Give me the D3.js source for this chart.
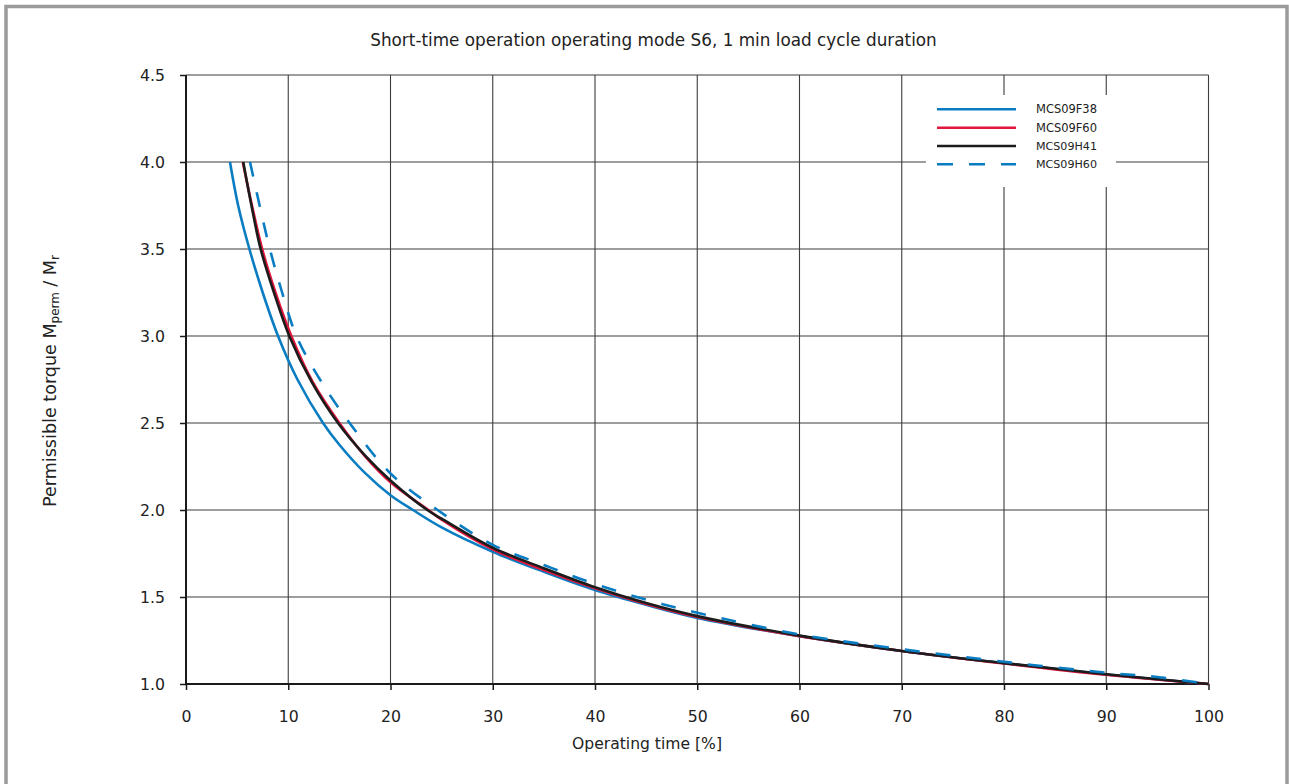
<!DOCTYPE html>
<html><head><meta charset="utf-8">
<script src="https://cdn.jsdelivr.net/npm/d3@7"></script>
<style>
html,body{margin:0;padding:0;background:#fff;}
svg{display:block;font-family:"DejaVu Sans",sans-serif;}
</style></head>
<body><svg id="chart" width="1289" height="784"></svg>
<script>
const title = "Short-time operation operating mode S6, 1 min load cycle duration";
const xTicks = [0,10,20,30,40,50,60,70,80,90,100];
const yTicks = [1.0,1.5,2.0,2.5,3.0,3.5,4.0,4.5];
const seriesNames = ["MCS09F38","MCS09F60","MCS09H41","MCS09H60"];
// operating time [%] -> permissible torque ratio
const xF38 = [4.3,5.1,6.2,7.5,9.0,10.9,13.4,15,17.5,20,22.2,25,30,35,40,45,50,60,70,80,90,100];
const yF38 = [4.0,3.75,3.5,3.25,3.0,2.75,2.5,2.375,2.213,2.085,2.0,1.90,1.76,1.645,1.54,1.455,1.38,1.275,1.19,1.12,1.055,1.0];
const xF60 = [5.55,6.45,7.45,8.75,10.3,12.4,15.0,17.5,20,23.7,25,30,35,40,45,50,60,70,80,90,100];
const yF60 = [4.0,3.75,3.5,3.25,3.0,2.735,2.5,2.31,2.16,2.0,1.945,1.774,1.655,1.55,1.46,1.385,1.275,1.19,1.118,1.053,1.0];
const xH41 = [5.6,6.4,7.3,8.6,10.1,12.3,14.9,17.5,20,23.6,25,30,35,40,45,50,60,70,80,90,100];
const yH41 = [4.0,3.75,3.5,3.25,3.0,2.735,2.497,2.314,2.17,2.0,1.95,1.783,1.665,1.556,1.465,1.39,1.278,1.19,1.12,1.056,1.0];
const xH60 = [6.26,7.2,8.2,9.4,10.8,13.1,16.0,20,24.6,30,35,40,45,50,60,70,80,90,95,100];
const yH60 = [4.0,3.75,3.5,3.25,3.0,2.75,2.5,2.21,2.0,1.80,1.684,1.575,1.485,1.41,1.285,1.20,1.128,1.065,1.04,1.0];

const series = [
  {name:seriesNames[0], xs:xF38, ys:yF38, color:"#0a7dc2", dash:null},
  {name:seriesNames[1], xs:xF60, ys:yF60, color:"#e3173e", dash:null},
  {name:seriesNames[2], xs:xH41, ys:yH41, color:"#1c1c1c", dash:null},
  {name:seriesNames[3], xs:xH60, ys:yH60, color:"#0a7dc2", dash:"15,16"}
];

const svg = d3.select("#chart");
const L=186, R=1208.5, T=75, B=684;
const x = d3.scaleLinear().domain([0,100]).range([L,R]);
const y = d3.scaleLinear().domain([1,4.5]).range([B,T]);

function fit(sel, target){
  const base = 14; sel.attr("font-size", base);
  const w = sel.node().getComputedTextLength();
  sel.attr("font-size", base*target/w);
  return base*target/w;
}

// frame
svg.append("rect").attr("x",6).attr("y",6.5).attr("width",1281).attr("height",820)
  .attr("fill","none").attr("stroke","#9b9b9b").attr("stroke-width",3.5);

// grid
const g = svg.append("g");
g.selectAll("line.vg").data(xTicks).join("line").attr("class","vg")
  .attr("x1",d=>x(d)).attr("x2",d=>x(d)).attr("y1",T).attr("y2",B)
  .attr("stroke","#3c3c3c").attr("stroke-width",1.1);
g.selectAll("line.hg").data(yTicks).join("line").attr("class","hg")
  .attr("x1",L).attr("x2",R).attr("y1",d=>y(d)).attr("y2",d=>y(d))
  .attr("stroke","#3c3c3c").attr("stroke-width",1.1);

// legend background (covers grid)
svg.append("rect").attr("x",926).attr("y",95).attr("width",190).attr("height",92).attr("fill","#fff");

// axes
const xAxis = d3.axisBottom(x).tickValues(xTicks).tickFormat(d3.format("d")).tickSize(6).tickPadding(0);
const yAxis = d3.axisLeft(y).tickValues(yTicks).tickFormat(d3.format(".1f")).tickSize(6).tickPadding(15);
const gx = svg.append("g").attr("transform",`translate(0,${B})`).call(xAxis);
const gy = svg.append("g").attr("transform",`translate(${L},0)`).call(yAxis);
[gx,gy].forEach(a=>{
  a.select(".domain").attr("stroke","#1a1a1a").attr("stroke-width",2);
  a.selectAll(".tick line").attr("stroke","#1a1a1a").attr("stroke-width",1.5);
  a.selectAll(".tick text").attr("fill","#222").attr("font-family","'DejaVu Sans',sans-serif");
});
gy.select(".domain").attr("d",`M0,${B}V${T}`);
gx.select(".domain").attr("d",`M${L},0H${R}`);
const tickFs = fit(gx.selectAll(".tick text").filter(d=>d===100), 30);
gx.selectAll(".tick text").attr("font-size",tickFs).attr("y",33).attr("dy","0.35em");
gy.selectAll(".tick text").attr("font-size",tickFs);

// curves
const line = d3.line().x(d=>x(d[0])).y(d=>y(d[1])).curve(d3.curveCatmullRom.alpha(0.5));
series.forEach(s=>{
  const pts = s.xs.map((v,i)=>[v,s.ys[i]]);
  svg.append("path").datum(pts).attr("d",line).attr("fill","none")
    .attr("stroke",s.color).attr("stroke-width",2.6)
    .attr("stroke-dasharray",s.dash);
});

// legend
const legY = [109.3,127.7,146,164.3];
series.forEach((s,i)=>{
  svg.append("line").attr("x1",937).attr("x2",1016).attr("y1",legY[i]).attr("y2",legY[i])
    .attr("stroke",s.color).attr("stroke-width",2.6).attr("stroke-dasharray",s.dash?"16,16":null);
  const t = svg.append("text").attr("x",1036).attr("y",legY[i]).attr("dy","0.35em")
    .attr("fill","#222").text(s.name);
  fit(t, 61);
});

// title
const tt = svg.append("text").attr("x",653.5).attr("y",40).attr("dy","0.35em").attr("text-anchor","middle")
  .attr("fill","#222").text(title);
fit(tt, 567);
// x label
const xl = svg.append("text").attr("x",647).attr("y",744).attr("dy","0.35em").attr("text-anchor","middle")
  .attr("fill","#222").text("Operating time [%]");
fit(xl, 150);
// y label
const yl = svg.append("text").attr("transform","translate(50,381) rotate(-90)")
  .attr("text-anchor","middle").attr("dy","0.35em").attr("fill","#222");
yl.append("tspan").text("Permissible torque M");
yl.append("tspan").attr("font-size","0.68em").attr("baseline-shift","-25%").text("perm");
yl.append("tspan").text(" / M");
yl.append("tspan").attr("font-size","0.68em").attr("baseline-shift","-25%").text("r");
fit(yl, 252);
</script></body></html>
